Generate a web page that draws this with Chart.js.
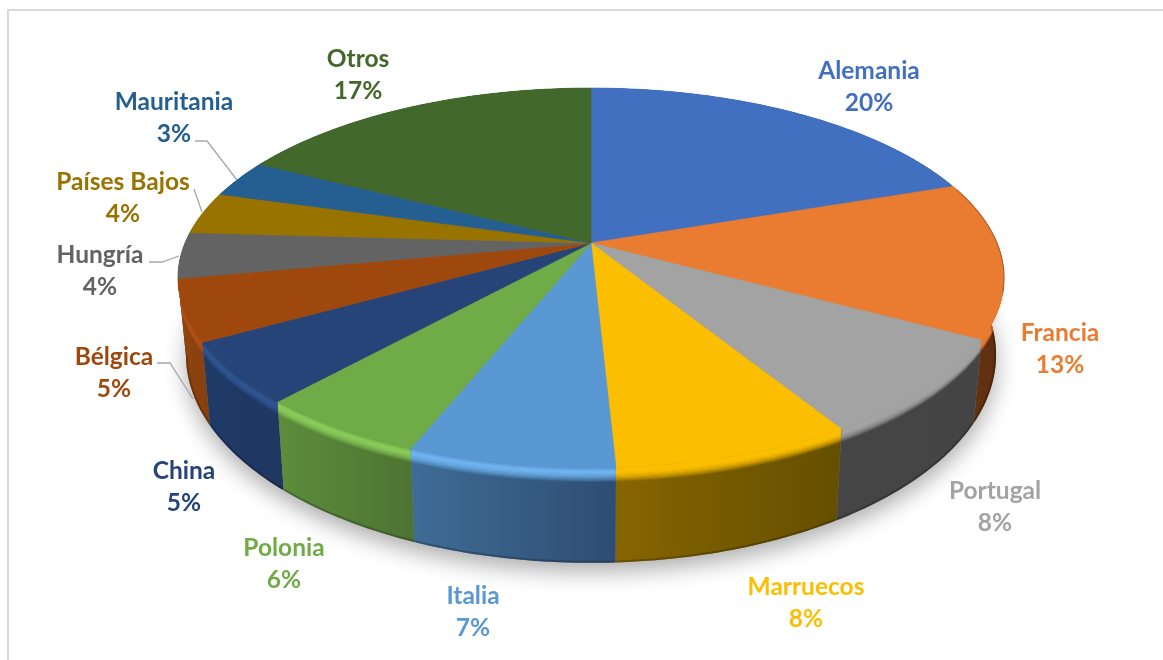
<!DOCTYPE html>
<html lang="es">
<head>
<meta charset="utf-8">
<title>Pie 3D</title>
<script src="https://cdn.jsdelivr.net/npm/chart.js@4/dist/chart.umd.min.js"></script>
<style>
    html, body { margin: 0; background: #fff; overflow: hidden; }
    #wrap { position: relative; width: 1163px; height: 660px; }
    #frame { position: absolute; left: 7px; top: 9px; right: 0; bottom: 0; border-left: 2px solid #d9d9d9; border-top: 2px solid #d9d9d9; }
    canvas { position: absolute; left: 0; top: 0; }
</style>
</head>
<body>
<div id="wrap">
    <div id="frame"></div>
    <canvas id="myChart" width="1163" height="660"></canvas>
</div>
<script>
// datos (las etiquetas muestran el valor redondeado)
var paises = ['Alemania', 'Francia', 'Portugal', 'Marruecos', 'Italia', 'Polonia', 'China', 'Bélgica', 'Hungría', 'Países Bajos', 'Mauritania', 'Otros'];
var porcentajes = [19.7, 13.3, 8.3, 7.9, 6.8, 5.6, 5.2, 5.2, 3.9, 3.6, 3.2, 17.3];

// colores
var colores = ['#4270c0', '#ea7c31', '#a3a3a3', '#fbbe00', '#5a98d4', '#6fab47', '#264478', '#9e480e', '#636363', '#997300', '#255e91', '#43682b'];
var paredClara = ['#2f4f88', '#6b3612', '#454545', '#876500', '#3e6c96', '#5c8c3c', '#203a68', '#8f430f', '#444444', '#6a5000', '#1a4165', '#2e481e'];
var paredOscura = ['#2f4f88', '#5e2f10', '#444444', '#654f00', '#2f4d72', '#4d7332', '#1f3760', '#84400f', '#444444', '#6a5000', '#1a4165', '#2e481e'];
var brillo = [null, null, null, null, '#6fb4f0', '#8acb5a', '#2f5590', '#b0501a', null, null, null, null];

// posicion de cada etiqueta (centro, linea 1)
var etiquetaX = [869, 1060, 995, 806, 473, 284, 184, 114, 100, 123, 174, 358];
var etiquetaY = [71, 333, 491, 587, 596, 548, 471, 357, 255, 182, 102, 59];
var lineas = {
    7: [[157, 363], [170, 363], [193, 399]],
    8: [[149, 262], [162, 262], [179, 256]],
    9: [[194, 189], [202, 212]],
    10: [[195, 141], [207, 141], [237, 180]]
};

// perspectiva de la cara superior e inferior
var cx = 591, cy = 243, k = 0.184, escX = 406, escY = 183.5;
var elipseA = 413, elipseB = 190, elipseY = 35;
var basA = 405, basB = 208, basY = 112;

function proyectar(a) {
    var w = 1 - k * Math.sin(a);
    return { x: cx + escX * Math.cos(a) / w, y: cy + escY * Math.sin(a) / w };
}
function abajo(p) {
    var u = (p.x - cx) / elipseA, v = (p.y - cy - elipseY) / elipseB;
    return { x: cx + u * basA, y: cy + basY + v * basB };
}
function arco(a0, a1) {
    var pts = [], n = Math.max(4, Math.ceil((a1 - a0) * 60));
    for (var i = 0; i <= n; i++) pts.push(proyectar(a0 + (a1 - a0) * i / n));
    return pts;
}
function trazo(ctx, pts, sigue) {
    pts.forEach(function (p, i) {
        if (i === 0 && !sigue) ctx.moveTo(p.x, p.y); else ctx.lineTo(p.x, p.y);
    });
}
function hex(c) {
    return [parseInt(c.substr(1, 2), 16), parseInt(c.substr(3, 2), 16), parseInt(c.substr(5, 2), 16)];
}
function mezcla(a, b, t, al) {
    var ca = hex(a), cb = hex(b);
    return 'rgba(' + Math.round(ca[0] + (cb[0] - ca[0]) * t) + ',' + Math.round(ca[1] + (cb[1] - ca[1]) * t) + ',' + Math.round(ca[2] + (cb[2] - ca[2]) * t) + ',' + al + ')';
}

function dibujarPared(ctx, arc, i) {
    var sup = arco(arc.startAngle, arc.endAngle);
    var inf = sup.map(abajo);
    ctx.save();
    ctx.beginPath();
    trazo(ctx, sup);
    trazo(ctx, inf.slice().reverse(), true);
    ctx.closePath();
    var xs = inf.map(function (p) { return p.x; });
    var grad = ctx.createLinearGradient(Math.min.apply(null, xs), 0, Math.max.apply(null, xs), 0);
    grad.addColorStop(0, paredClara[i]);
    grad.addColorStop(1, paredOscura[i]);
    ctx.fillStyle = grad;
    ctx.fill();
    ctx.clip();

    // bisel del borde superior
    var hl = brillo[i] || colores[i];
    for (var j = 0; j < 14; j++) {
        var f = j / 13;
        ctx.strokeStyle = f < 0.3 ? mezcla(colores[i], hl, f / 0.3, 1) : mezcla(hl, hl, 0, (1 - (f - 0.3) / 0.7).toFixed(2));
        ctx.lineWidth = 2;
        ctx.beginPath();
        trazo(ctx, sup.map(function (p, n) {
            return { x: p.x + (inf[n].x - p.x) * f * 0.15, y: p.y + (inf[n].y - p.y) * f * 0.15 };
        }));
        ctx.stroke();
    }
    // borde inferior oscuro
    ctx.strokeStyle = 'rgba(0,0,0,0.22)';
    ctx.lineWidth = 4;
    ctx.beginPath();
    trazo(ctx, inf);
    ctx.stroke();
    ctx.restore();
}

var pie3d = {
    id: 'pie3d',
    beforeDatasetDraw: function (chart) {
        var ctx = chart.ctx;
        var arcs = chart.getDatasetMeta(0).data;

        // sombra bajo la base
        ctx.save();
        ctx.shadowColor = 'rgba(0,0,0,0.32)';
        ctx.shadowBlur = 22;
        ctx.shadowOffsetY = 9;
        ctx.fillStyle = '#888';
        ctx.beginPath();
        trazo(ctx, arco(-Math.PI / 2, Math.PI * 1.5).map(abajo));
        ctx.closePath();
        ctx.fill();
        ctx.restore();

        // paredes, de atras hacia adelante
        var orden = arcs.map(function (a, i) { return i; }).sort(function (a, b) {
            return Math.sin((arcs[a].startAngle + arcs[a].endAngle) / 2) - Math.sin((arcs[b].startAngle + arcs[b].endAngle) / 2);
        });
        orden.forEach(function (i) { dibujarPared(ctx, arcs[i], i); });

        // cara superior
        arcs.forEach(function (arc, i) {
            ctx.beginPath();
            ctx.moveTo(cx, cy);
            trazo(ctx, arco(arc.startAngle, arc.endAngle), true);
            ctx.closePath();
            ctx.fillStyle = colores[i];
            ctx.strokeStyle = colores[i];
            ctx.lineWidth = 0.6;
            ctx.fill();
            ctx.stroke();
        });

        // canto oscuro de Francia
        ctx.strokeStyle = 'rgba(96,48,16,0.4)';
        ctx.lineWidth = 1.2;
        ctx.beginPath();
        trazo(ctx, arco(arcs[1].startAngle + 0.02, arcs[1].startAngle + 0.6));
        ctx.stroke();
        return false;
    },
    afterDraw: function (chart) {
        var ctx = chart.ctx;
        ctx.save();
        ctx.strokeStyle = '#a6a6a6';
        ctx.lineWidth = 1.3;
        Object.keys(lineas).forEach(function (i) {
            ctx.beginPath();
            lineas[i].forEach(function (p, n) {
                if (n === 0) ctx.moveTo(p[0], p[1]); else ctx.lineTo(p[0], p[1]);
            });
            ctx.stroke();
        });
        ctx.font = 'bold 24.5px Lato, sans-serif';
        ctx.textAlign = 'center';
        ctx.textBaseline = 'middle';
        paises.forEach(function (nombre, i) {
            ctx.fillStyle = colores[i];
            ctx.fillText(nombre, etiquetaX[i], etiquetaY[i]);
            ctx.fillText(Math.round(porcentajes[i]) + '%', etiquetaX[i], etiquetaY[i] + 32);
        });
        ctx.restore();
    }
};

var ctx = document.getElementById('myChart');
var myChart = new Chart(ctx, {
    type: 'pie',
    data: {
        labels: paises,
        datasets: [{
            data: porcentajes,
            backgroundColor: colores
        }]
    },
    options: {
        responsive: false,
        animation: false,
        events: [],
        plugins: {
            legend: { display: false },
            tooltip: { enabled: false }
        }
    },
    plugins: [pie3d]
});
</script>
</body>
</html>
